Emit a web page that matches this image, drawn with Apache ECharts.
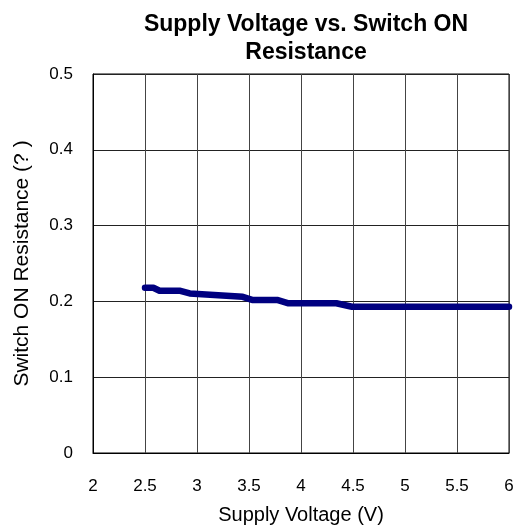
<!DOCTYPE html>
<html><head><meta charset="utf-8">
<script src="https://cdn.jsdelivr.net/npm/echarts@6/dist/echarts.min.js"></script>
<style>html,body{margin:0;padding:0;background:#fff}#c{width:516px;height:529px}</style>
</head><body><div id="c"></div>
<script>
const voltage = [2.5, 2.58, 2.64, 2.84, 2.93, 3.44, 3.53, 3.77, 3.88, 4.34, 4.49, 6.0];
const resistance = [0.218, 0.218, 0.214, 0.214, 0.2105, 0.206, 0.202, 0.202, 0.1975, 0.1975, 0.193, 0.193];
const xTicks = [2, 2.5, 3, 3.5, 4, 4.5, 5, 5.5, 6];
const yTicks = [0, 0.1, 0.2, 0.3, 0.4, 0.5];

const chart = echarts.init(document.getElementById('c'), null, {renderer: 'canvas'});
const font = 'Liberation Sans, Arial, sans-serif';
chart.setOption({
  animation: false,
  backgroundColor: '#fff',
  title: {
    text: 'Supply Voltage vs. Switch ON\nResistance',
    left: 301, top: 6, textAlign: 'center',
    textStyle: {fontFamily: font, fontSize: 23, fontWeight: 'bold', color: '#000', lineHeight: 28}
  },
  grid: {left: 93, right: 7, top: 74, bottom: 76, containLabel: false, outerBoundsMode: 'none',
    show: true, borderColor: '#000', borderWidth: 1},
  xAxis: {
    type: 'value', min: 2, max: 6, interval: 0.5,
    name: 'Supply Voltage (V)', nameLocation: 'middle', nameGap: 52,
    nameTextStyle: {fontFamily: font, fontSize: 20, color: '#000'},
    axisLine: {show: true, lineStyle: {color: '#000'}},
    axisTick: {show: false},
    axisLabel: {fontFamily: font, fontSize: 17, color: '#000', margin: 25,
      formatter: v => String(xTicks.find(t => Math.abs(t - v) < 1e-9) ?? v)},
    splitLine: {show: true, lineStyle: {color: '#444', width: 1}}
  },
  yAxis: {
    type: 'value', min: 0, max: 0.5, interval: 0.1,
    name: 'Switch ON Resistance (? )', nameLocation: 'middle', nameGap: 60,
    nameTextStyle: {fontFamily: font, fontSize: 21, color: '#000'},
    axisLine: {show: true, lineStyle: {color: '#000'}},
    axisTick: {show: false},
    axisLabel: {fontFamily: font, fontSize: 17, color: '#000', margin: 20,
      formatter: v => String(yTicks.find(t => Math.abs(t - v) < 1e-9) ?? v)},
    splitLine: {show: true, lineStyle: {color: '#222', width: 1}}
  },
  series: [{
    type: 'line',
    data: voltage.map((v, i) => [v, resistance[i]]),
    showSymbol: false,
    lineStyle: {color: '#000080', width: 6.5, cap: 'round', join: 'round'},
    itemStyle: {color: '#000080'}
  }]
});
</script></body></html>
